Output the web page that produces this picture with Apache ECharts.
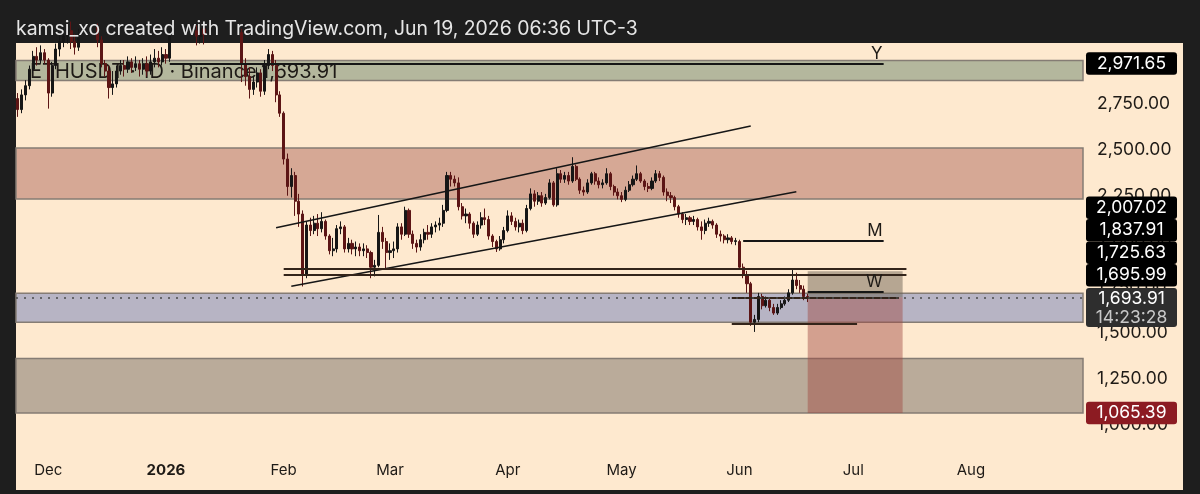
<!DOCTYPE html>
<html>
<head>
<meta charset="utf-8">
<script src="https://cdn.jsdelivr.net/npm/echarts@6/dist/echarts.min.js"></script>
<style>
  html, body { margin: 0; padding: 0; background: #1e1e1e; }
  #chart { width: 1200px; height: 494px; }
</style>
</head>
<body>
<div id="chart"></div>
<script>
// first day on the axis and how many daily slots the axis holds
const startDay = "2025-11-23";
const dayCount = 281;

// daily candles from 2025-11-23 to 2026-06-19: [open, close, low, high]
const ethDaily = [
  [2780, 2720, 2680, 2810], [2720, 2800, 2700, 2830], [2800, 2850, 2770, 2880], [2850, 2940, 2830, 2960],
  [2940, 3010, 2920, 3040], [3010, 2990, 2960, 3060], [2990, 3030, 2970, 3070], [3030, 2990, 2970, 3050],
  [2990, 2810, 2725, 3000], [2810, 2960, 2790, 2980], [2960, 3050, 2940, 3080], [3050, 3090, 3010, 3130],
  [3090, 3120, 3060, 3160], [3120, 3150, 3080, 3190], [3150, 3090, 3050, 3200], [3090, 3060, 3020, 3130],
  [3060, 3110, 3040, 3160], [3110, 3180, 3090, 3220], [3180, 3150, 3100, 3230], [3150, 3200, 3120, 3260],
  [3200, 3170, 3120, 3240], [3170, 3100, 3060, 3190], [3100, 2970, 2950, 3120], [2970, 2930, 2900, 2990],
  [2930, 2840, 2780, 2960], [2840, 2860, 2800, 2930], [2860, 2930, 2840, 2960], [2930, 2960, 2910, 2990],
  [2960, 2940, 2900, 2990], [2940, 2980, 2920, 3010], [2980, 2950, 2920, 3000], [2950, 2970, 2930, 3010],
  [2970, 2940, 2900, 2990], [2940, 2970, 2910, 3000], [2970, 2930, 2900, 3010], [2930, 2980, 2910, 3020],
  [2980, 3000, 2950, 3050], [3000, 2980, 2950, 3040], [2980, 3020, 2960, 3060], [3020, 3000, 2970, 3050],
  [3000, 3120, 2980, 3150], [3120, 3180, 3090, 3220], [3180, 3230, 3150, 3280], [3230, 3280, 3200, 3320],
  [3280, 3250, 3210, 3310], [3250, 3200, 3150, 3270], [3200, 3150, 3090, 3230], [3150, 3120, 3070, 3180],
  [3120, 3160, 3080, 3200], [3160, 3130, 3075, 3190], [3130, 3180, 3100, 3220], [3180, 3250, 3150, 3290],
  [3250, 3300, 3220, 3340], [3300, 3280, 3240, 3350], [3280, 3320, 3250, 3360], [3320, 3290, 3240, 3350],
  [3290, 3250, 3200, 3310], [3250, 3180, 3140, 3270], [3180, 3140, 3100, 3200], [3140, 2970, 2870, 3160],
  [2970, 2900, 2850, 3000], [2900, 2830, 2780, 2950], [2830, 2870, 2800, 2900], [2870, 2920, 2840, 2950],
  [2920, 2820, 2790, 2940], [2820, 2960, 2800, 2990], [2960, 3020, 2940, 3050], [3020, 2960, 2930, 3040],
  [2960, 2800, 2760, 2990], [2800, 2700, 2680, 2820], [2700, 2450, 2420, 2710], [2450, 2300, 2250, 2480],
  [2300, 2360, 2240, 2400], [2360, 2220, 2140, 2380], [2220, 2150, 2080, 2260], [2150, 1820, 1755, 2170],
  [1820, 2090, 1800, 2110], [2090, 2060, 2030, 2130], [2060, 2100, 2040, 2140], [2100, 2070, 2030, 2150],
  [2070, 2110, 2050, 2160], [2110, 2030, 2010, 2120], [2030, 1950, 1930, 2040], [1950, 1960, 1920, 2020],
  [1960, 2070, 1940, 2090], [2070, 2080, 2040, 2110], [2080, 1960, 1940, 2090], [1960, 1990, 1940, 2020],
  [1990, 1960, 1930, 2010], [1960, 1970, 1920, 2000], [1970, 1950, 1920, 1990], [1950, 1960, 1920, 1990],
  [1960, 1940, 1910, 1980], [1940, 1860, 1800, 1950], [1860, 1870, 1810, 1900], [1870, 2050, 1860, 2145],
  [2050, 2000, 1960, 2080], [2000, 1940, 1855, 2020], [1940, 1950, 1900, 1990], [1950, 1960, 1910, 2000],
  [1960, 2080, 1940, 2100], [2080, 2040, 2010, 2100], [2040, 2170, 2030, 2190], [2170, 2040, 2020, 2180],
  [2040, 1990, 1960, 2060], [1990, 1970, 1940, 2010], [1970, 2010, 1950, 2040], [2010, 2050, 1990, 2070],
  [2050, 2040, 2010, 2090], [2040, 2080, 2020, 2100], [2080, 2090, 2050, 2110], [2090, 2100, 2060, 2130],
  [2100, 2170, 2080, 2200], [2170, 2360, 2160, 2380], [2360, 2340, 2300, 2380], [2340, 2320, 2300, 2360],
  [2320, 2190, 2170, 2350], [2190, 2140, 2120, 2210], [2140, 2150, 2100, 2180], [2150, 2100, 2070, 2160],
  [2100, 2040, 2020, 2110], [2040, 2090, 2030, 2110], [2090, 2130, 2070, 2160], [2130, 2120, 2090, 2180],
  [2120, 2030, 2010, 2140], [2030, 2000, 1970, 2040], [2000, 1960, 1943, 2010], [1960, 2010, 1950, 2030],
  [2010, 2060, 1990, 2080], [2060, 2140, 2050, 2170], [2140, 2110, 2090, 2160], [2110, 2080, 2060, 2130],
  [2080, 2100, 2050, 2120], [2100, 2060, 2040, 2120], [2060, 2180, 2050, 2200], [2180, 2260, 2170, 2290],
  [2260, 2220, 2190, 2280], [2220, 2250, 2200, 2270], [2250, 2210, 2190, 2270], [2210, 2240, 2200, 2260],
  [2240, 2320, 2230, 2340], [2320, 2200, 2190, 2330], [2200, 2370, 2190, 2400], [2370, 2340, 2320, 2390],
  [2340, 2360, 2320, 2380], [2360, 2330, 2310, 2380], [2330, 2410, 2320, 2460], [2410, 2340, 2330, 2420],
  [2340, 2280, 2260, 2350], [2280, 2270, 2250, 2300], [2270, 2320, 2260, 2340], [2320, 2370, 2310, 2380],
  [2370, 2330, 2310, 2380], [2330, 2310, 2290, 2350], [2310, 2320, 2290, 2340], [2320, 2370, 2310, 2400],
  [2370, 2300, 2280, 2380], [2300, 2270, 2250, 2310], [2270, 2250, 2230, 2290], [2250, 2230, 2215, 2270],
  [2230, 2280, 2220, 2300], [2280, 2310, 2270, 2330], [2310, 2340, 2300, 2360], [2340, 2370, 2330, 2415],
  [2370, 2330, 2320, 2380], [2330, 2300, 2280, 2340], [2300, 2290, 2270, 2320], [2290, 2330, 2280, 2350],
  [2330, 2370, 2320, 2390], [2370, 2350, 2330, 2385], [2350, 2270, 2250, 2360], [2270, 2250, 2220, 2290],
  [2250, 2240, 2210, 2270], [2240, 2190, 2170, 2250], [2190, 2150, 2130, 2200], [2150, 2120, 2100, 2160],
  [2120, 2130, 2090, 2150], [2130, 2110, 2090, 2140], [2110, 2120, 2090, 2140], [2120, 2080, 2060, 2130],
  [2080, 2060, 2010, 2110], [2060, 2100, 2040, 2120], [2100, 2110, 2080, 2130], [2110, 2090, 2070, 2120],
  [2090, 2040, 2020, 2100], [2040, 2030, 2000, 2060], [2030, 2010, 1990, 2040], [2010, 2020, 1990, 2040],
  [2020, 2000, 1985, 2030], [2000, 2005, 1980, 2020], [2000, 1860, 1850, 2010], [1860, 1820, 1800, 1880],
  [1820, 1770, 1720, 1840], [1770, 1560, 1540, 1780], [1560, 1575, 1507, 1600], [1575, 1700, 1560, 1720],
  [1700, 1650, 1630, 1715], [1650, 1680, 1640, 1700], [1680, 1640, 1620, 1690], [1640, 1610, 1600, 1660],
  [1610, 1640, 1600, 1660], [1640, 1660, 1630, 1680], [1660, 1680, 1650, 1700], [1680, 1720, 1670, 1740],
  [1720, 1790, 1710, 1845], [1790, 1760, 1740, 1830], [1760, 1740, 1720, 1790], [1740, 1700, 1680, 1760],
  [1700, 1693.91, 1670, 1715]
];

// labels on the time axis, keyed by the day they sit on
const monthTicks = {
  "2025-12-01": "Dec", "2026-01-01": "2026", "2026-02-01": "Feb", "2026-03-01": "Mar",
  "2026-04-01": "Apr", "2026-05-01": "May", "2026-06-01": "Jun", "2026-07-01": "Jul", "2026-08-01": "Aug"
};

// full width price zones
const zones = [
  { from: 2878, to: 2988, color: "#b4b79d" },
  { from: 2232, to: 2510, color: "#d6a895" },
  { from: 1560, to: 1718, color: "#b7b4c4" },
  { from: 1065, to: 1362, color: "#baab9a" }
];

// short position box: stop, entry, target
const position = { from: "2026-06-19", to: "2026-07-14", stop: 1837.91, entry: 1695.99, target: 1065.39 };

// drawn lines: [start day, start price, end day, end price, tag]
const drawnLines = [
  ["2026-01-30", 2075, "2026-06-04", 2630, ""],
  ["2026-02-03", 1756, "2026-06-16", 2272, ""],
  ["2026-01-02", 2971.65, "2026-07-09", 2971.65, "Y"],
  ["2026-06-02", 2007.02, "2026-07-09", 2007.02, "M"],
  ["2026-06-19", 1725.63, "2026-07-09", 1725.63, "W"],
  ["2026-02-01", 1854, "2026-07-15", 1854, ""],
  ["2026-02-01", 1819, "2026-07-15", 1819, ""],
  ["2026-05-30", 1695.99, "2026-07-13", 1695.99, ""],
  ["2026-05-30", 1550, "2026-07-02", 1550, ""]
];

const lastPrice = 1693.91;
const countdown = "14:23:28";

// tags on the price scale
const priceTags = [
  { value: 2971.65, bg: "#000000" },
  { value: 2007.02, bg: "#000000" },
  { value: 1837.91, bg: "#000000" },
  { value: 1725.63, bg: "#000000" },
  { value: 1695.99, bg: "#000000" },
  { value: lastPrice, bg: "#2e2e2e", sub: countdown },
  { value: 1065.39, bg: "#8c1b22" }
];

const days = [];
const d0 = new Date(startDay + "T00:00:00Z");
for (let i = 0; i < dayCount; i++) {
  const d = new Date(d0.getTime() + i * 86400000);
  days.push(d.toISOString().slice(0, 10));
}

const fmt = (v) => v.toLocaleString("en-US", { minimumFractionDigits: 2, maximumFractionDigits: 2 });
const font = "Inter, 'Noto Sans', sans-serif";
const ink = "#1e1a16";

const chart = echarts.init(document.getElementById("chart"));

const zoneAreas = zones.map((z) => [
  { yAxis: z.from, itemStyle: { color: z.color, borderColor: "#857c74", borderWidth: 1.5 } },
  { yAxis: z.to }
]);
zoneAreas.push([
  { xAxis: position.from, yAxis: position.entry, itemStyle: { color: "rgba(110,100,85,0.5)", borderWidth: 0 } },
  { xAxis: position.to, yAxis: position.stop }
]);
zoneAreas.push([
  { xAxis: position.from, yAxis: position.target, itemStyle: { color: "rgba(160,70,65,0.45)", borderWidth: 0 } },
  { xAxis: position.to, yAxis: position.entry }
]);

const lineMarks = drawnLines.map((l) => {
  const flat = l[1] === l[3];
  return [
    {
      coord: [l[0], l[1]],
      lineStyle: { color: flat && !l[4] ? "#33241a" : "#161616", width: flat ? 2 : 1.6, type: "solid" },
      label: l[4]
        ? { show: true, formatter: l[4], position: "insideEndTop", distance: 1, color: ink, fontSize: 17, fontFamily: font }
        : { show: false }
    },
    { coord: [l[2], l[3]] }
  ];
});
lineMarks.push({
  yAxis: lastPrice,
  lineStyle: { color: "#4a4a4a", width: 1.5, type: [2, 6] },
  label: { show: false }
});

const option = {
  backgroundColor: "#1e1e1e",
  animation: false,
  grid: { left: 16, right: 117, top: 43, bottom: 23.3 },
  xAxis: {
    type: "category",
    data: days,
    boundaryGap: true,
    axisLine: { show: false },
    axisTick: { show: false },
    splitLine: { show: false },
    axisLabel: {
      interval: (idx, val) => monthTicks[val] !== undefined,
      formatter: (val) => (val === "2026-01-01" ? "{b|2026}" : monthTicks[val]),
      margin: 0,
      verticalAlign: "middle",
      color: ink,
      fontSize: 15,
      fontFamily: font,
      rich: { b: { fontWeight: "bold", fontSize: 15, color: ink, fontFamily: font } }
    }
  },
  yAxis: {
    type: "value",
    position: "right",
    min: 750,
    max: 3083,
    interval: 250,
    axisLine: { show: false },
    axisTick: { show: false },
    splitLine: { show: false },
    axisLabel: {
      margin: 14,
      color: ink,
      fontSize: 17.5,
      fontFamily: font,
      formatter: (v) => (v < 1000 || v > 2900 ? "" : fmt(v))
    }
  },
  series: [
    {
      type: "candlestick",
      name: "ETHUSDT",
      data: ethDaily,
      barWidth: 2.6,
      z: 2,
      itemStyle: {
        color: "#161616",
        color0: "#5c1515",
        borderColor: "#161616",
        borderColor0: "#5c1515",
        borderWidth: 1
      },
      markArea: { silent: true, data: zoneAreas },
      markLine: { silent: true, symbol: "none", animation: false, data: lineMarks }
    }
  ]
};

chart.setOption(option);

// cream pane behind everything, price scale included
const elements = [
  { type: "rect", z: -10, silent: true, shape: { x: 16, y: 43, width: 1167, height: 447 }, style: { fill: "#fee9cf" } }
];

// place price tags, pushing the ones that collide upwards like the price scale does
const toY = (v) => chart.convertToPixel({ yAxisIndex: 0 }, v);
const tagX = 1086, tagW = 91, tagH = 22.5;
function addTag(t, top, h) {
  elements.push({ type: "rect", z: 20, shape: { x: tagX, y: top, width: tagW, height: h, r: 3 }, style: { fill: t.bg } });
  elements.push({ type: "text", z: 21, style: { text: fmt(t.value), x: tagX + tagW / 2, y: top + tagH / 2, align: "center", verticalAlign: "middle", fill: "#ffffff", font: "17.5px " + font } });
  if (t.sub) {
    elements.push({ type: "text", z: 21, style: { text: t.sub, x: tagX + tagW / 2, y: top + tagH / 2 + 19, align: "center", verticalAlign: "middle", fill: "#c8c8c8", font: "17.5px " + font } });
  }
}
const cur = priceTags.find((t) => t.sub);
const curTop = toY(cur.value) - tagH / 2 + 1.5;
addTag(cur, curTop, 39);
let limit = curTop - 1.5;
priceTags.filter((t) => !t.sub && t.value > cur.value).sort((a, b) => a.value - b.value).forEach((t) => {
  const c = Math.min(toY(t.value), limit - tagH / 2);
  addTag(t, c - tagH / 2, tagH);
  limit = c - tagH / 2;
});
let floor = curTop + 39;
priceTags.filter((t) => !t.sub && t.value < cur.value).sort((a, b) => b.value - a.value).forEach((t) => {
  const c = Math.max(toY(t.value), floor + tagH / 2);
  addTag(t, c - tagH / 2, tagH);
  floor = c + tagH / 2;
});

// header and legend
elements.push({ type: "text", z: 20, style: { text: "kamsi_xo created with TradingView.com, Jun 19, 2026 06:36 UTC-3", x: 16, y: 29, verticalAlign: "middle", fill: "#e6e6e6", font: "19.4px " + font } });
elements.push({ type: "text", z: 1.5, style: { text: "ETHUSDT · 1D · Binance", x: 30, y: 72, verticalAlign: "middle", fill: ink, font: "20px " + font } });
elements.push({ type: "text", z: 1.5, style: { text: fmt(lastPrice), x: 261, y: 72, verticalAlign: "middle", fill: ink, font: "20px " + font } });

chart.setOption({ graphic: { elements: elements } });
</script>
</body>
</html>
